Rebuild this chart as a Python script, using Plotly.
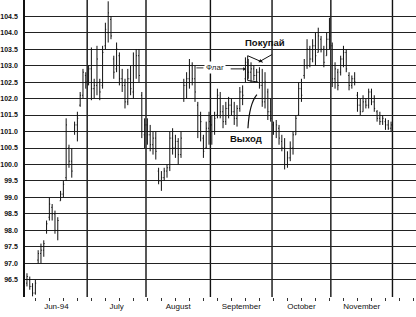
import pandas as pd
import plotly.graph_objects as go

# ---- data ----
month_labels = ["Jun-94", "July", "August", "September", "October", "November"]
y_ticks = [96.5, 97.0, 97.5, 98.0, 98.5, 99.0, 99.5, 100.0, 100.5, 101.0, 101.5,
           102.0, 102.5, 103.0, 103.5, 104.0, 104.5]

high = [96.7, 96.6, 96.4, 96.5, 97.4, 97.6, 97.7, 98.3, 99.0, 98.8, 98.6, 98.4, 99.2, 99.5,
        101.4, 100.6, 100.5, 101.3, 101.6, 102.2, 102.9, 102.8,
        103.0, 103.55, 102.6, 103.6, 102.6, 103.6, 104.3, 104.95, 104.5, 103.3, 103.7, 103.4,
        102.9, 102.6, 102.9, 103.0, 103.4, 103.5, 103.5, 102.2, 101.4,
        101.4, 101.2, 101.0, 101.0, 99.9, 99.8, 99.9, 100.0, 101.0, 101.1, 100.9, 100.8, 101.0,
        102.6, 102.8, 103.2, 103.1, 103.0, 101.9, 101.6, 100.9, 101.3, 101.6,
        101.5, 101.6, 102.3, 102.2, 101.8, 101.9, 102.05, 102.0, 101.9, 101.8, 102.35, 102.4,
        103.25, 103.2, 103.1, 103.0, 102.9, 102.95, 102.9, 102.8, 102.3, 102.0,
        101.3, 101.35, 101.2, 100.9, 100.8, 100.4, 100.7, 101.0, 101.5, 102.5, 102.6,
        103.2, 103.8, 103.6, 103.8, 104.0, 104.15, 103.9, 103.6, 104.0, 104.45,
        103.7, 103.1, 102.9, 103.3, 103.6, 103.5, 102.8, 102.7, 102.8, 102.2, 102.0,
        102.1, 102.0, 102.3, 102.3, 102.1, 101.65, 101.6, 101.5, 101.4, 101.35, 101.3]

low = [96.3, 96.2, 96.0, 96.05, 97.0, 97.0, 97.2, 97.9, 98.3, 98.3, 97.9, 97.7, 98.9, 99.0,
       99.5, 99.9, 99.6, 100.9, 100.7, 101.75, 102.0, 102.3,
       102.4, 101.95, 102.0, 102.1, 101.95, 102.3, 103.5, 103.7, 103.8, 102.6, 102.8, 102.4,
       102.2, 101.7, 101.8, 102.1, 102.0, 102.6, 102.5, 100.8, 100.5,
       100.6, 100.4, 100.3, 100.15, 99.4, 99.2, 99.5, 99.6, 99.8, 100.3, 100.2, 100.0, 100.2,
       101.9, 102.0, 102.3, 102.4, 101.9, 100.8, 100.7, 100.2, 100.5, 100.6,
       100.6, 100.9, 101.4, 101.4, 101.1, 101.2, 101.4, 101.5, 101.2, 101.15, 101.6, 101.8,
       102.5, 102.6, 102.5, 102.55, 102.5, 102.3, 101.75, 101.7, 101.35, 101.3,
       100.9, 100.8, 100.6, 100.4, 99.85, 99.9, 100.1, 100.3, 100.9, 101.5, 101.9,
       102.6, 102.9, 102.95, 103.1, 103.0, 103.4, 103.4, 102.95, 103.3, 103.5,
       102.35, 102.3, 102.25, 102.7, 102.95, 102.8, 102.25, 102.3, 102.4, 101.6, 101.5,
       101.6, 101.7, 101.7, 101.8, 101.6, 101.3, 101.2, 101.2, 101.05, 101.05, 101.0]

open_ = [96.4, 96.5, 96.3, 96.1, 97.1, 97.3, 97.4, 98.0, 98.4, 98.7, 98.5, 98.0, 98.9, 99.1,
         99.6, 100.5, 100.1, 101.0, 101.2, 101.8, 102.1, 102.7,
         102.5, 102.9, 102.3, 102.4, 102.5, 102.4, 103.6, 104.0, 104.4, 103.2, 102.9, 103.3,
         102.6, 102.4, 101.9, 102.6, 102.2, 103.0, 103.3, 102.1, 100.9,
         101.2, 100.9, 100.6, 100.8, 99.8, 99.5, 99.6, 99.8, 99.9, 100.8, 100.5, 100.7, 100.3,
         102.0, 102.4, 102.6, 103.0, 102.6, 101.8, 101.0, 100.8, 100.5, 101.1,
         101.2, 101.0, 101.5, 102.0, 101.6, 101.3, 101.7, 101.8, 101.6, 101.4, 101.7, 102.2,
         102.6, 103.0, 102.8, 102.9, 102.7, 102.8, 102.4, 101.9, 102.2, 101.6,
         101.2, 101.0, 101.1, 100.7, 100.5, 100.0, 100.2, 100.5, 100.9, 101.5, 102.3,
         102.7, 103.0, 103.5, 103.2, 103.6, 103.4, 103.8, 103.5, 103.3, 103.8,
         103.6, 102.6, 102.8, 102.8, 103.2, 103.4, 102.7, 102.4, 102.6, 102.1, 101.8,
         101.6, 101.9, 101.8, 102.2, 101.9, 101.6, 101.4, 101.3, 101.3, 101.2, 101.1]

close = [96.6, 96.3, 96.1, 96.4, 97.3, 97.4, 97.6, 98.2, 98.8, 98.5, 98.0, 98.3, 99.1, 99.4,
         101.2, 100.1, 99.8, 101.2, 101.4, 102.1, 102.8, 102.5,
         102.9, 102.3, 102.4, 103.2, 102.2, 103.4, 104.1, 104.6, 103.9, 102.8, 103.5, 102.6,
         102.4, 101.9, 102.6, 102.3, 103.0, 103.3, 102.7, 101.0, 101.2,
         100.9, 100.6, 100.8, 100.4, 99.5, 99.6, 99.8, 99.9, 100.8, 100.5, 100.7, 100.3, 100.8,
         102.4, 102.6, 103.0, 102.6, 102.2, 101.0, 101.3, 100.4, 101.1, 101.3,
         101.0, 101.4, 102.1, 101.6, 101.3, 101.7, 101.8, 101.6, 101.4, 101.7, 102.2, 102.1,
         103.1, 102.8, 102.9, 102.7, 102.8, 102.4, 101.9, 102.5, 101.6, 101.4,
         101.0, 101.2, 100.8, 100.5, 100.0, 100.2, 100.5, 100.9, 101.4, 102.3, 102.1,
         103.0, 103.5, 103.2, 103.6, 103.3, 103.9, 103.5, 103.1, 103.8, 103.9,
         102.6, 102.9, 102.4, 103.2, 103.4, 102.9, 102.4, 102.6, 102.5, 101.8, 101.6,
         101.9, 101.8, 102.2, 101.9, 101.7, 101.4, 101.3, 101.4, 101.2, 101.1, 101.2]

dates = pd.bdate_range("1994-06-01", "1994-11-30")
idx = list(range(len(dates)))

# month boundaries / centres derived from dates
months = [d.month for d in dates]
bounds = [i - 0.5 for i in range(1, len(dates)) if months[i] != months[i - 1]] + [len(dates) - 0.5]
starts = [-0.5] + bounds[:-1]
centres = [(a + b) / 2 for a, b in zip(starts, bounds)]
mondays = [i for i, d in enumerate(dates) if d.weekday() == 0] + [133, 138]

fig = go.Figure()
fig.add_trace(go.Ohlc(
    x=idx, open=open_, high=high, low=low, close=close,
    increasing=dict(line=dict(color="#111", width=1)),
    decreasing=dict(line=dict(color="#111", width=1)),
    tickwidth=0.3, showlegend=False, hoverinfo="skip"))

for b in bounds:
    fig.add_shape(type="line", xref="x", yref="paper", x0=b, x1=b, y0=0, y1=1,
                  line=dict(color="#111", width=1.4), layer="below")

# flag outline
fig.add_shape(type="path", xref="x", yref="y",
              path="M 78.8,103.3 L 84.2,103.1 M 78.8,103.3 L 78.8,102.55 L 82.5,102.5",
              line=dict(color="#111", width=1))
# exit curve
fig.add_shape(type="path", xref="x", yref="y",
              path="M 78.9,101.1 Q 79.4,101.85 82.1,102.12",
              line=dict(color="#111", width=1.2))
# little dash before "Флаг"
fig.add_shape(type="line", xref="x", yref="y", x0=60.5, x1=63.0, y0=102.93, y1=102.93,
              line=dict(color="#333", width=1))

fig.add_annotation(x=85, y=103.70, text="<b>Покупай</b>", showarrow=False,
                   font=dict(family="Liberation Sans, Arial", size=9.5, color="#111"))
fig.add_annotation(x=82.6, y=103.1, ax=88.0, ay=103.36, axref="x", ayref="y",
                   text="", showarrow=True, arrowhead=2, arrowsize=0.7, arrowwidth=1,
                   arrowcolor="#111")
fig.add_annotation(x=67.1, y=102.93, text="Флаг", showarrow=False, bgcolor="white",
                   font=dict(family="Liberation Sans, Arial", size=8, color="#222"))
fig.add_annotation(x=78.4, y=102.9, ax=72.2, ay=102.9, axref="x", ayref="y",
                   text="", showarrow=True, arrowhead=2, arrowsize=0.7, arrowwidth=1,
                   arrowcolor="#222")
fig.add_annotation(x=78.2, y=100.78, text="<b>Выход</b>", showarrow=False,
                   font=dict(family="Liberation Sans, Arial", size=9.5, color="#111"))

fig.update_layout(
    width=416, height=317,
    margin=dict(l=25, r=0, t=0, b=20),
    paper_bgcolor="white", plot_bgcolor="white",
    showlegend=False,
    xaxis=dict(
        range=[-0.7, 138.9], rangeslider=dict(visible=False),
        showgrid=False, zeroline=False, showline=False,
        tickmode="array", tickvals=centres, ticktext=month_labels,
        ticks="", ticklabelstandoff=3,
        tickfont=dict(family="Liberation Sans, Arial", size=8, color="#111"),
        minor=dict(tickmode="array", tickvals=mondays, ticks="outside", ticklen=3,
                   tickcolor="#333", showgrid=False),
    ),
    yaxis=dict(
        range=[95.98, 104.99], tickmode="array", tickvals=y_ticks,
        ticktext=[f"{v:.1f}" for v in y_ticks],
        showgrid=True, gridcolor="#222", gridwidth=1.3, zeroline=False,
        showline=True, linecolor="#111", linewidth=1.5,
        ticks="", ticklabelstandoff=4,
        tickfont=dict(family="Liberation Sans, Arial", size=7, color="#111", weight="bold"),
    ),
)

fig.write_html("out.html")
